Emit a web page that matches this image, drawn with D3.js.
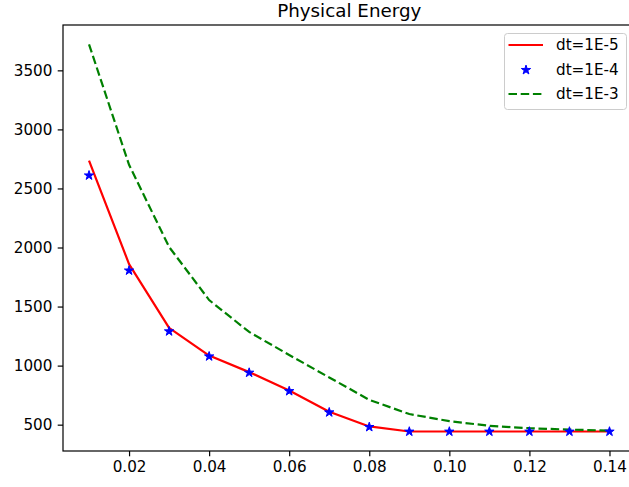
<!DOCTYPE html>
<html>
<head>
<meta charset="utf-8">
<script src="https://cdn.jsdelivr.net/npm/d3@7"></script>
<style>
html,body{margin:0;padding:0;background:#fff;}
svg{display:block;font-family:"DejaVu Sans",sans-serif;}
</style>
</head>
<body>
<svg id="chart" width="629" height="487"></svg>
<script>
const xValues = [0.01,0.02,0.03,0.04,0.05,0.06,0.07,0.08,0.09,0.10,0.11,0.12,0.13,0.14];
const dt1e5 = [2735,1860,1320,1085,945,790,610,485,442,442,442,442,442,442];
const dt1e4 = [2610,1805,1290,1078,940,784,604,480,441,441,441,441,441,441];
const dt1e3 = [3720,2700,2005,1555,1285,1090,900,710,590,530,490,470,458,450];
const seriesNames = ["dt=1E-5","dt=1E-4","dt=1E-3"];
const xTicks = [0.02,0.04,0.06,0.08,0.10,0.12,0.14];
const yTicks = [500,1000,1500,2000,2500,3000,3500];
const title = "Physical Energy";

const svg = d3.select("#chart");
const L = 63, R = 635.5, T = 25, B = 451;

const xMin = d3.min(xValues), xMax = d3.max(xValues);
const xPad = (xMax - xMin) * 0.05;
const allY = dt1e5.concat(dt1e4, dt1e3);
const yMin = d3.min(allY), yMax = d3.max(allY);
const yPad = (yMax - yMin) * 0.05;

const x = d3.scaleLinear().domain([xMin - xPad, xMax + xPad]).range([L, R]);
const y = d3.scaleLinear().domain([yMin - yPad, yMax + yPad]).range([B, T]);

svg.append("clipPath").attr("id","clip").append("rect")
  .attr("x", L).attr("y", T).attr("width", R - L).attr("height", B - T);

const plot = svg.append("g").attr("clip-path","url(#clip)");
const line = d3.line().x((d,i)=>x(xValues[i])).y(d=>y(d));

plot.append("path").datum(dt1e5).attr("d", line)
  .attr("fill","none").attr("stroke","#ff0000").attr("stroke-width",2.2)
  .attr("stroke-linejoin","round");
plot.append("path").datum(dt1e3).attr("d", line)
  .attr("fill","none").attr("stroke","#008000").attr("stroke-width",2.2)
  .attr("stroke-dasharray","8.5,3.7");

const star = d3.symbol().type(d3.symbolStar).size(27);
plot.selectAll("path.star").data(dt1e4).enter().append("path")
  .attr("class","star").attr("d", star)
  .attr("transform",(d,i)=>`translate(${x(xValues[i])},${y(d)})`)
  .attr("fill","#0000ff").attr("stroke","#0000ff").attr("stroke-width",1);

// axes
const xAxis = d3.axisBottom(x).tickValues(xTicks).tickFormat(d3.format(".2f")).tickSize(5.3).tickPadding(5.3);
const yAxis = d3.axisLeft(y).tickValues(yTicks).tickFormat(d3.format("d")).tickSize(5.3).tickPadding(5.3);
const gx = svg.append("g").attr("transform",`translate(0,${B})`).call(xAxis);
const gy = svg.append("g").attr("transform",`translate(${L},0)`).call(yAxis);
[gx,gy].forEach(g=>{
  g.select(".domain").remove();
  g.selectAll(".tick line").attr("stroke","#000").attr("stroke-width",1.2);
  g.selectAll(".tick text").attr("fill","#000").style("font-size","15.2px").style("font-family","DejaVu Sans");
});

// spines
svg.append("rect").attr("x",L).attr("y",T).attr("width",R-L).attr("height",B-T)
  .attr("fill","none").attr("stroke","#000").attr("stroke-width",1.2);

// title
svg.append("text").attr("x",(L+R)/2).attr("y",17).attr("text-anchor","middle")
  .style("font-size","18.3px").attr("fill","#000").text(title);

// legend
const lg = svg.append("g");
lg.append("rect").attr("x",504.5).attr("y",33.5).attr("width",122).attr("height",76)
  .attr("rx",3).attr("fill","#fff").attr("fill-opacity",0.8).attr("stroke","#cccccc").attr("stroke-width",1);
const rows = [45, 70, 94];
lg.append("line").attr("x1",508.5).attr("x2",543).attr("y1",rows[0]).attr("y2",rows[0])
  .attr("stroke","#ff0000").attr("stroke-width",2.2);
lg.append("path").attr("d",star).attr("transform",`translate(526,${rows[1]})`)
  .attr("fill","#0000ff").attr("stroke","#0000ff").attr("stroke-width",1);
lg.append("line").attr("x1",508.5).attr("x2",543).attr("y1",rows[2]).attr("y2",rows[2])
  .attr("stroke","#008000").attr("stroke-width",2.2).attr("stroke-dasharray","8.5,3.7");
seriesNames.forEach((n,i)=>{
  lg.append("text").attr("x",556).attr("y",rows[i]).attr("dy","0.35em")
    .style("font-size","15.2px").attr("fill","#000").text(n);
});
</script>
</body>
</html>
